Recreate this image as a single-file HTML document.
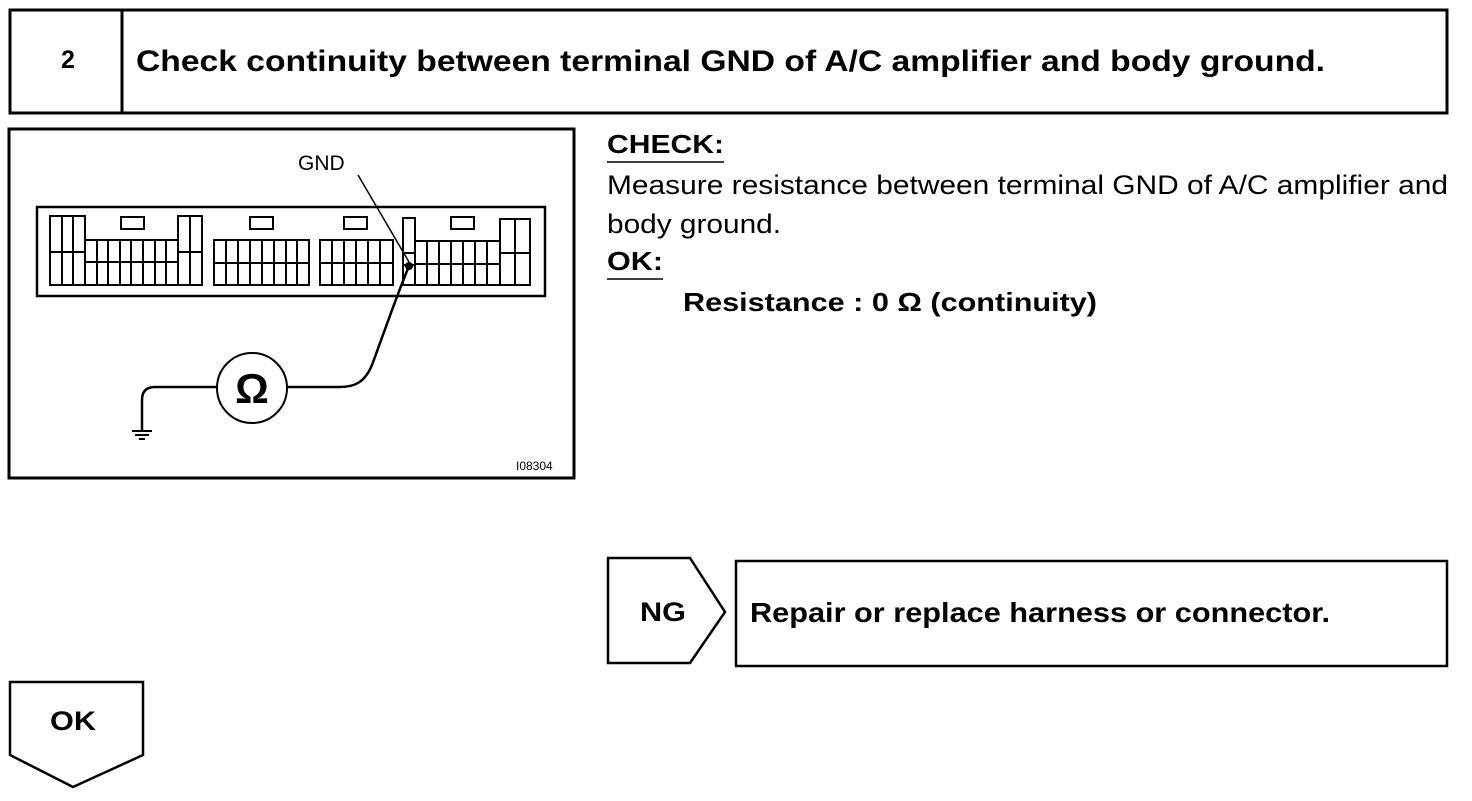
<!DOCTYPE html>
<html><head><style>
body{margin:0;background:#fff;}
svg text{font-family:"Liberation Sans",sans-serif;}
</style></head><body>
<svg width="1472" height="796" xmlns="http://www.w3.org/2000/svg">
<g fill="none" stroke="#000">
<rect x="10" y="10" width="1437" height="103" stroke-width="3"/>
<line x1="122" y1="10" x2="122" y2="113" stroke-width="3"/>
<rect x="9" y="129" width="565" height="349" stroke-width="3"/>
<rect x="37" y="207" width="508" height="89" stroke-width="2.5"/>
<g stroke-width="2">
<rect x="50" y="216" width="35" height="69"/>
<line x1="62" y1="216" x2="62" y2="285"/><line x1="73" y1="216" x2="73" y2="285"/>
<line x1="50" y1="252" x2="85" y2="252"/>
<rect x="85" y="240" width="93" height="45"/>
<line x1="85" y1="262" x2="178" y2="262"/>
<line x1="97" y1="240" x2="97" y2="285"/><line x1="108" y1="240" x2="108" y2="285"/><line x1="120" y1="240" x2="120" y2="285"/><line x1="131" y1="240" x2="131" y2="285"/><line x1="143" y1="240" x2="143" y2="285"/><line x1="155" y1="240" x2="155" y2="285"/><line x1="166" y1="240" x2="166" y2="285"/>
<rect x="178" y="216" width="24" height="69"/>
<line x1="190" y1="216" x2="190" y2="285"/><line x1="178" y1="252" x2="202" y2="252"/>
<rect x="121" y="217" width="23" height="12"/>
<rect x="214" y="240" width="95" height="45"/>
<line x1="214" y1="263" x2="309" y2="263"/>
<line x1="226" y1="240" x2="226" y2="285"/><line x1="238" y1="240" x2="238" y2="285"/><line x1="250" y1="240" x2="250" y2="285"/><line x1="262" y1="240" x2="262" y2="285"/><line x1="274" y1="240" x2="274" y2="285"/><line x1="286" y1="240" x2="286" y2="285"/><line x1="297" y1="240" x2="297" y2="285"/>
<rect x="250" y="217" width="23" height="12"/>
<rect x="320" y="240" width="73" height="45"/>
<line x1="320" y1="263" x2="393" y2="263"/>
<line x1="332" y1="240" x2="332" y2="285"/><line x1="344" y1="240" x2="344" y2="285"/><line x1="356" y1="240" x2="356" y2="285"/><line x1="368" y1="240" x2="368" y2="285"/><line x1="380" y1="240" x2="380" y2="285"/>
<rect x="344" y="217" width="23" height="12"/>
<rect x="403" y="218" width="12" height="67"/>
<line x1="403" y1="253" x2="415" y2="253"/><line x1="403" y1="265" x2="415" y2="265"/>
<rect x="415" y="241" width="85" height="44"/>
<line x1="415" y1="264" x2="500" y2="264"/>
<line x1="427" y1="241" x2="427" y2="285"/><line x1="439" y1="241" x2="439" y2="285"/><line x1="451" y1="241" x2="451" y2="285"/><line x1="463" y1="241" x2="463" y2="285"/><line x1="475" y1="241" x2="475" y2="285"/><line x1="487" y1="241" x2="487" y2="285"/>
<rect x="500" y="219" width="30" height="66"/>
<line x1="515" y1="219" x2="515" y2="285"/><line x1="500" y1="253" x2="530" y2="253"/>
<rect x="451" y="217" width="23" height="12"/>
</g>
<line x1="358" y1="175" x2="409" y2="262" stroke-width="1.5"/>
<path d="M409 266 C395 300,385 330,372 365 C365 382,355 387,340 387 L287 387" stroke-width="2.5"/>
<circle cx="252" cy="388" r="35" stroke-width="2"/>
<path d="M217 387 L155 387 Q142 387 142 400 L142 430" stroke-width="2.5"/>
<line x1="132" y1="431" x2="152" y2="431" stroke-width="2"/>
<line x1="135" y1="435" x2="149" y2="435" stroke-width="2"/>
<line x1="139" y1="439" x2="145" y2="439" stroke-width="2"/>
<line x1="607" y1="162" x2="724" y2="162" stroke-width="1.5"/>
<line x1="607" y1="279" x2="663" y2="279" stroke-width="1.5"/>
<path d="M608 558 L690 558 L725 612 L690 663 L608 663 Z" stroke-width="2.5"/>
<rect x="736" y="561" width="711" height="105" stroke-width="2.5"/>
<path d="M10 682 L143 682 L143 755 L73 787 L10 755 Z" stroke-width="2.5"/>
</g>
<circle cx="409" cy="266" r="4" fill="#000"/>
<text x="252" y="403" font-size="42" font-weight="bold" text-anchor="middle">Ω</text>
<text x="298" y="170" font-size="21">GND</text>
<text x="516" y="470" font-size="12">I08304</text>
<text x="68" y="68" font-size="25" font-weight="bold" text-anchor="middle">2</text>
<text x="136" y="71" font-size="30" font-weight="bold" textLength="1189" lengthAdjust="spacingAndGlyphs">Check continuity between terminal GND of A/C amplifier and body ground.</text>
<text x="607" y="153" font-size="26" font-weight="bold" textLength="117" lengthAdjust="spacingAndGlyphs">CHECK:</text>
<text x="607" y="194" font-size="27" textLength="841" lengthAdjust="spacingAndGlyphs">Measure resistance between terminal GND of A/C amplifier and</text>
<text x="607" y="233" font-size="27" textLength="174" lengthAdjust="spacingAndGlyphs">body ground.</text>
<text x="607" y="270" font-size="26" font-weight="bold" textLength="56" lengthAdjust="spacingAndGlyphs">OK:</text>
<text x="683" y="311" font-size="26" font-weight="bold" textLength="414" lengthAdjust="spacingAndGlyphs">Resistance : 0 Ω (continuity)</text>
<text x="640" y="621" font-size="27" font-weight="bold" textLength="46" lengthAdjust="spacingAndGlyphs">NG</text>
<text x="750" y="622" font-size="28" font-weight="bold" textLength="580" lengthAdjust="spacingAndGlyphs">Repair or replace harness or connector.</text>
<text x="50" y="730" font-size="27" font-weight="bold" textLength="46" lengthAdjust="spacingAndGlyphs">OK</text>
</svg>
</body></html>
